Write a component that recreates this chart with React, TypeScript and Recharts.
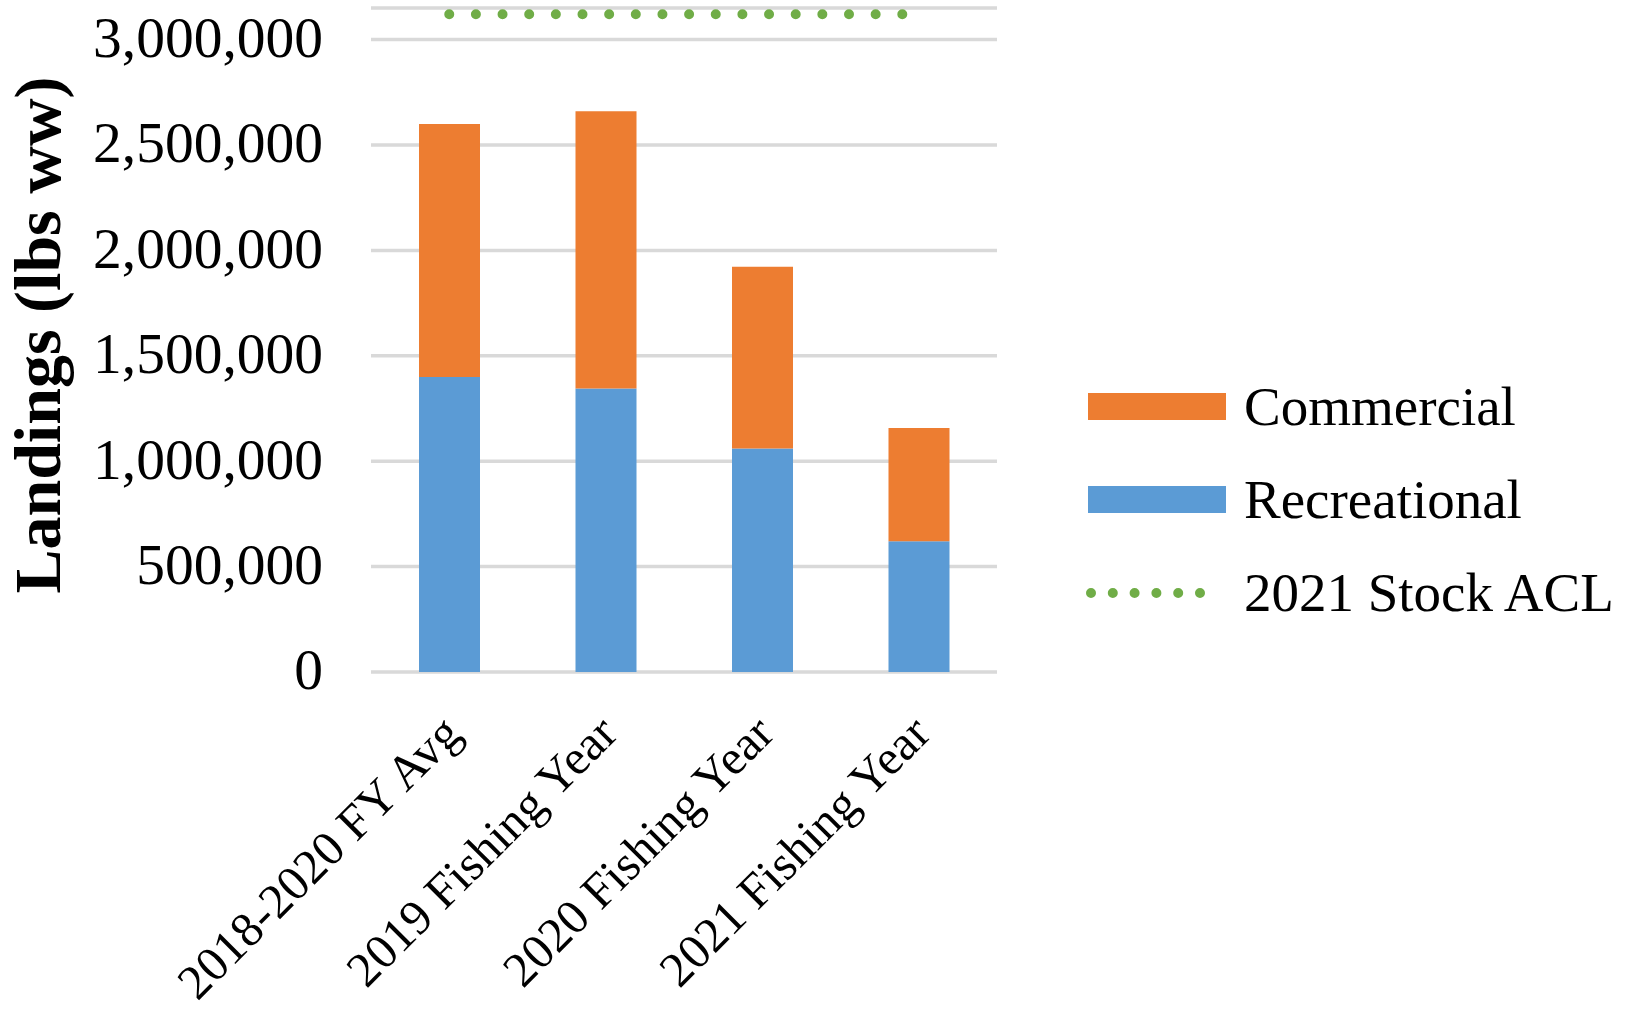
import {
  BarChart,
  Bar,
  Line,
  XAxis,
  YAxis,
  CartesianGrid,
  Legend,
} from "recharts";

const categories = [
  "2018-2020 FY Avg",
  "2019 Fishing Year",
  "2020 Fishing Year",
  "2021 Fishing Year",
];
const recreational = [1400000, 1345000, 1060000, 620000];
const commercial = [1200000, 1315000, 862000, 538000];
const stockAcl = [3120000, 3120000, 3120000, 3120000];
const yTicks = [0, 500000, 1000000, 1500000, 2000000, 2500000, 3000000];

const FONT = '"Liberation Serif", "Times New Roman", serif';
const PLOT_BOTTOM = 672;

const data = categories.map((name, i) => ({
  name,
  recreational: recreational[i],
  commercial: commercial[i],
  acl: stockAcl[i],
}));

const XTick = (props: any) => {
  const { x, payload } = props;
  const tx = x + 14;
  const ty = PLOT_BOTTOM + 64;
  return (
    <text
      x={tx}
      y={ty}
      transform={`rotate(-45, ${tx}, ${ty})`}
      textAnchor="end"
      fontFamily={FONT}
      fontSize={49}
      fill="#000"
    >
      {payload.value}
    </text>
  );
};

const YTitle = () => (
  <text
    x={60}
    y={335}
    transform="rotate(-90, 60, 335)"
    textAnchor="middle"
    fontFamily={FONT}
    fontWeight="bold"
    fontSize={66}
    fill="#000"
  >
    Landings (lbs ww)
  </text>
);

const LegendBox = () => {
  const row = { display: "flex", alignItems: "center", height: 93 };
  const label = { marginLeft: 18, fontSize: 55, color: "#000", whiteSpace: "nowrap" as const };
  return (
    <div style={{ fontFamily: FONT }}>
      <div style={row}>
        <div style={{ width: 138, height: 27, background: "#ED7D31", marginLeft: 2 }} />
        <span style={label}>Commercial</span>
      </div>
      <div style={row}>
        <div style={{ width: 138, height: 27, background: "#5B9BD5", marginLeft: 2 }} />
        <span style={label}>Recreational</span>
      </div>
      <div style={row}>
        <svg width={140} height={20}>
          <line
            x1={5}
            y1={10}
            x2={135}
            y2={10}
            stroke="#70AD47"
            strokeWidth={10}
            strokeLinecap="round"
            strokeDasharray="0 21.8"
          />
        </svg>
        <span style={label}>2021 Stock ACL</span>
      </div>
    </div>
  );
};

export default function App() {
  return (
    <div style={{ position: "absolute", left: 0, top: 0, background: "#fff", fontFamily: FONT }}>
      <BarChart
        width={1629}
        height={1022}
        data={data}
        margin={{ top: 8, right: 632, left: 0, bottom: 0 }}
      >
        <CartesianGrid vertical={false} stroke="#D9D9D9" strokeWidth={3.5} />
        <XAxis
          dataKey="name"
          height={350}
          axisLine={false}
          tickLine={false}
          interval={0}
          tick={<XTick />}
        />
        <YAxis
          width={371}
          domain={[0, 3150000]}
          ticks={yTicks}
          interval={0}
          axisLine={false}
          tickLine={false}
          tickSize={0}
          tickMargin={48}
          tickFormatter={(v: number) => v.toLocaleString("en-US")}
          tick={{ fill: "#000", fontSize: 57.5, fontFamily: FONT, dy: -3 }}
          label={{ content: () => <YTitle /> }}
        />
        <Bar
          dataKey="recreational"
          stackId="a"
          fill="#5B9BD5"
          barSize={61}
          isAnimationActive={false}
        />
        <Bar
          dataKey="commercial"
          stackId="a"
          fill="#ED7D31"
          barSize={61}
          isAnimationActive={false}
        />
        <Line
          dataKey="acl"
          stroke="#70AD47"
          strokeWidth={10}
          strokeLinecap="round"
          strokeDasharray="0 26.65"
          dot={false}
          activeDot={false}
          isAnimationActive={false}
        />
        <Legend
          layout="vertical"
          align="center"
          verticalAlign="middle"
          content={<LegendBox />}
          wrapperStyle={{ position: "absolute", left: 1086, top: 360, width: 543 }}
        />
      </BarChart>
    </div>
  );
}
